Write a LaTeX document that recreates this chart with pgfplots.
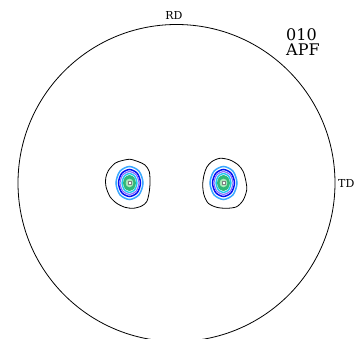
\documentclass[border=0pt]{standalone}
\usepackage{pgfplots}
\pgfplotsset{compat=1.18}
\usepackage{fontspec}
\setmainfont{DejaVu Serif}
\definecolor{lvA}{HTML}{3AA8FF}
\definecolor{lvB}{HTML}{0010F0}
\definecolor{lvC}{HTML}{8A6CFF}
\definecolor{lvD}{HTML}{20C8F0}
\definecolor{lvE}{HTML}{30B878}
\definecolor{lvF}{HTML}{A8E8B8}
\begin{document}
\begin{tikzpicture}
\begin{axis}[
  scale only axis, width=357pt, height=339pt,
  xmin=0, xmax=357, ymin=0, ymax=339,
  hide axis, clip=true,
]
\coordinate (sw) at (rel axis cs:0,0);
\coordinate (ne) at (rel axis cs:1,1);
% projection circle
\draw[black, line width=0.8pt] (axis cs:176.5,156) circle[radius=158.5];

% lowest density level
\addplot[black, line width=0.8pt, smooth cycle, tension=0.5] coordinates {
 (115,175.7) (121.7,178.3) (130,179.7) (138.3,177.3) (145,174) (149.3,167.3)
 (150,155.7) (149,145.7) (146.7,137.3) (141.7,133) (133.3,130.7) (125,131.7)
 (116.7,135.7) (110,142.3) (106,152.3) (105.7,160.7) (108.3,168.3)};
\addplot[black, line width=0.8pt, smooth cycle, tension=0.5] coordinates {
 (220,180.7) (230,179) (238.3,174) (243.3,167.3) (246,157.3) (246.7,149)
 (243.3,139) (236.7,132.3) (226.7,130.7) (216.7,131.7) (208.3,135.7) (204,144)
 (202.7,154) (204,164) (206.7,171.7) (211.7,177.3)};

% left maximum
\addplot[lvA, line width=1.5pt, smooth cycle] coordinates {
 (143,156) (139.1,167.7) (129.5,172.5) (119.9,167.7) (116,156) (119.9,144.3) (129.5,139.5) (139.1,144.3)};
\addplot[lvB, line width=1.5pt, smooth cycle] coordinates {
 (140.5,156) (137.3,165.6) (129.5,169.5) (121.7,165.6) (118.5,156) (121.7,146.4) (129.5,142.5) (137.3,146.4)};
\addplot[lvC, line width=1.2pt, smooth cycle] coordinates {
 (139,156) (136.2,164.2) (129.5,167.5) (122.8,164.2) (120,156) (122.8,147.8) (129.5,144.5) (136.2,147.8)};
\addplot[lvD, line width=1.4pt, smooth cycle] coordinates {
 (137,156) (134.8,162.7) (129.5,165.5) (124.2,162.7) (122,156) (124.2,149.3) (129.5,146.5) (134.8,149.3)};
\addplot[lvE, fill=lvE, line width=0.8pt, smooth cycle] coordinates {
 (135.5,156) (133.8,161.3) (129.5,163.5) (125.2,161.3) (123.5,156) (125.2,150.7) (129.5,148.5) (133.8,150.7)};
\addplot[lvF, fill=lvF, line width=0.6pt, smooth cycle] coordinates {
 (133,156) (132,158.8) (129.5,160) (127,158.8) (126,156) (127,153.2) (129.5,152) (132,153.2)};
\addplot[only marks, mark=square*, mark size=1.5pt, draw=gray, fill=white] coordinates {(129.5,156)};

% right maximum
\addplot[lvA, line width=1.5pt, smooth cycle] coordinates {
 (237,156) (233.1,167.7) (223.5,172.5) (213.9,167.7) (210,156) (213.9,144.3) (223.5,139.5) (233.1,144.3)};
\addplot[lvB, line width=1.5pt, smooth cycle] coordinates {
 (234.5,156) (231.3,165.6) (223.5,169.5) (215.7,165.6) (212.5,156) (215.7,146.4) (223.5,142.5) (231.3,146.4)};
\addplot[lvC, line width=1.2pt, smooth cycle] coordinates {
 (233,156) (230.2,164.2) (223.5,167.5) (216.8,164.2) (214,156) (216.8,147.8) (223.5,144.5) (230.2,147.8)};
\addplot[lvD, line width=1.4pt, smooth cycle] coordinates {
 (231,156) (228.8,162.7) (223.5,165.5) (218.2,162.7) (216,156) (218.2,149.3) (223.5,146.5) (228.8,149.3)};
\addplot[lvE, fill=lvE, line width=0.8pt, smooth cycle] coordinates {
 (229.5,156) (227.8,161.3) (223.5,163.5) (219.2,161.3) (217.5,156) (219.2,150.7) (223.5,148.5) (227.8,150.7)};
\addplot[lvF, fill=lvF, line width=0.6pt, smooth cycle] coordinates {
 (227,156) (226,158.8) (223.5,160) (221,158.8) (220,156) (221,153.2) (223.5,152) (226,153.2)};
\addplot[only marks, mark=square*, mark size=1.5pt, draw=gray, fill=white] coordinates {(223.5,156)};

% sample directions and pole figure name
\node[font=\fontsize{11}{12}\selectfont, inner sep=0pt] at (axis cs:174,323.5) {RD};
\node[font=\fontsize{11}{12}\selectfont, inner sep=0pt, anchor=west] at (axis cs:338,155.5) {TD};
\node[font=\fontsize{16}{15}\selectfont, inner sep=0pt, anchor=west, align=left] at (axis cs:286,296.5) {010\\APF};
\end{axis}
\pgfresetboundingbox
\path[use as bounding box] (sw) rectangle (ne);
\end{tikzpicture}
\end{document}
